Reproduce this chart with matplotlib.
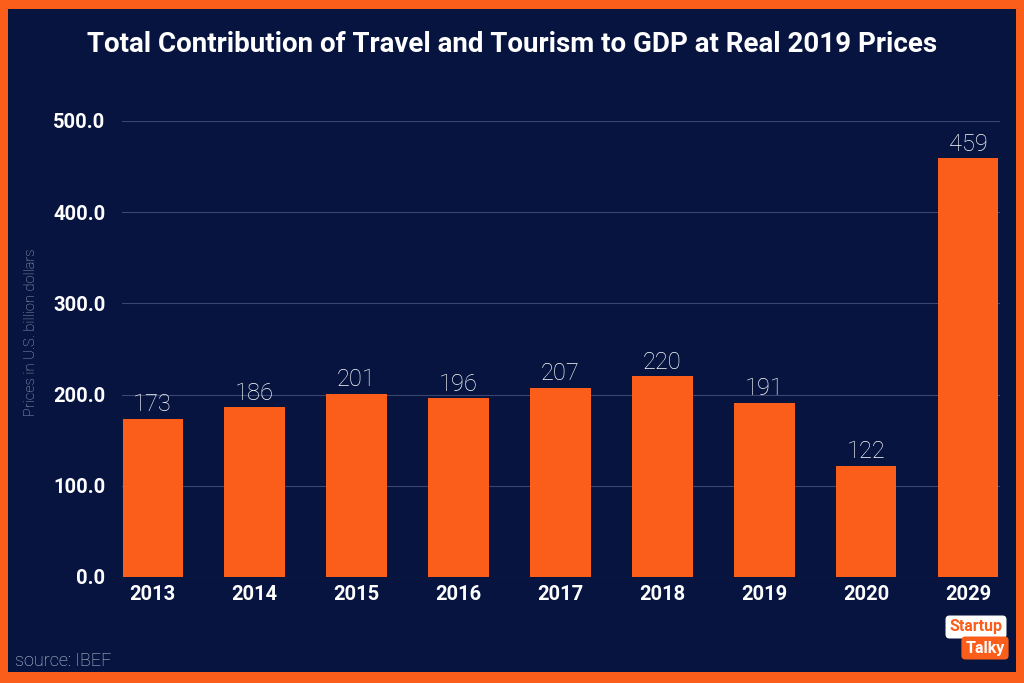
import matplotlib
matplotlib.use("Agg")
import matplotlib.pyplot as plt
from matplotlib.patches import Rectangle

years = ["2013", "2014", "2015", "2016", "2017", "2018", "2019", "2020", "2029"]
values = [173, 186, 201, 196, 207, 220, 191, 122, 459]
yticks = [0, 100, 200, 300, 400, 500]

ORANGE = "#FA5E1A"
NAVY = "#06143F"

plt.rcParams['font.family'] = ['Roboto', 'DejaVu Sans']

fig = plt.figure(figsize=(10.24, 6.83), dpi=100)
fig.patch.set_facecolor(ORANGE)
fig.add_artist(Rectangle((8/1024, 11/683), 1 - 16/1024, 1 - 20/683,
                         transform=fig.transFigure, facecolor=NAVY,
                         edgecolor="none", zorder=0))

ax = fig.add_axes([122/1024, 1 - 577/683, (1000 - 122)/1024, (577 - 121)/683])
ax.set_facecolor("none")
x = list(range(len(years)))
ax.bar(x, values, width=0.59, color=ORANGE, zorder=3)
for xi, v in zip(x, values):
    ax.text(xi, v + 3, f"{v}", ha="center", va="bottom", color="white",
            fontsize=17, fontweight="light", clip_on=False, zorder=4)

ax.set_xlim(-0.3, 8.31)
ax.set_ylim(0, 500)
ax.set_yticks(yticks)
ax.set_yticklabels([f"{t:.1f}" for t in yticks])
ax.set_xticks(x)
ax.set_xticklabels(years)
ax.tick_params(axis="both", length=0, colors="white", labelsize=14.5)
ax.tick_params(axis="y", pad=12)
ax.tick_params(axis="x", pad=6)
for lab in ax.get_xticklabels() + ax.get_yticklabels():
    lab.set_fontweight("bold")
ax.grid(axis="y", color="#3A4670", linewidth=0.8, zorder=1)
for s in ax.spines.values():
    s.set_visible(False)
ax.set_ylabel("Prices in U.S. billion dollars", color="#A9B0C8", fontsize=10.5,
              fontweight="light")
ax.yaxis.set_label_coords((38 - 122) / 878, (577 - 332) / 456)

fig.text(0.5, 1 - 45/683, "Total Contribution of Travel and Tourism to GDP at Real 2019 Prices",
         ha="center", va="center", color="white", fontsize=20, fontweight="bold")
fig.text(15/1024, 1 - 661/683, "source: IBEF", ha="left", va="center",
         color="#C8CDE0", fontsize=13, fontweight="light")

# logo
fig.text(976/1024, 1 - 627/683, "Startup", ha="center", va="center", color=ORANGE,
         fontsize=11.5, fontweight="bold",
         bbox=dict(boxstyle="round,pad=0.25", facecolor="white", edgecolor="none"))
fig.text(985/1024, 1 - 648/683, "Talky", ha="center", va="center", color="white",
         fontsize=11.5, fontweight="bold",
         bbox=dict(boxstyle="round,pad=0.25", facecolor=ORANGE, edgecolor="none"))

fig.savefig("out.png", dpi=100, facecolor=fig.get_facecolor())
